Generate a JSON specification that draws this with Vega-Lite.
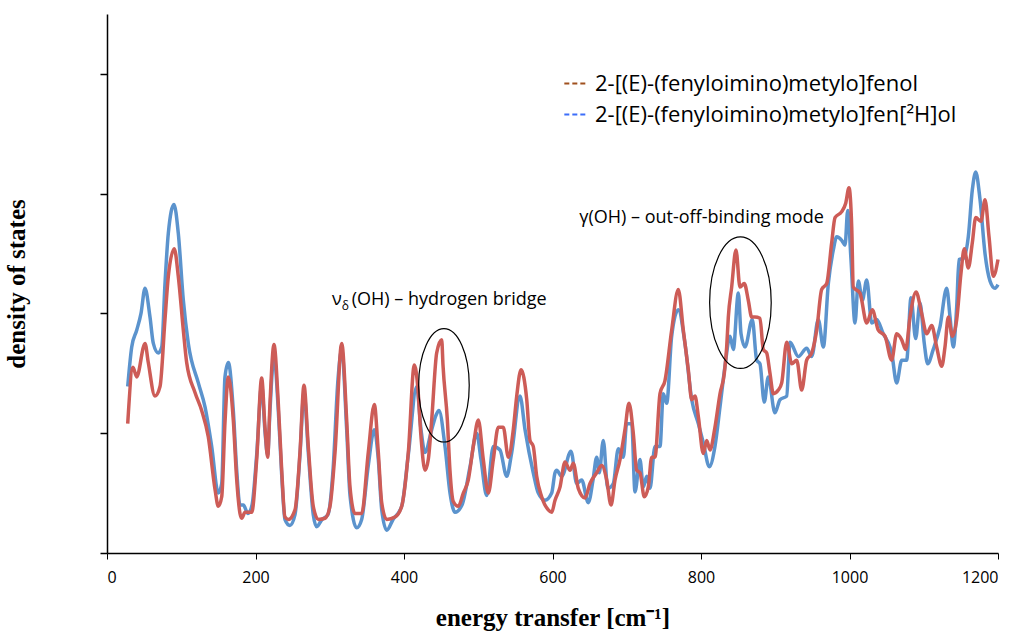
{
  "$schema": "https://vega.github.io/schema/vega-lite/v6.json",
  "width": 891,
  "height": 539,
  "autosize": {"type": "none"},
  "padding": {"left": 107, "top": 14, "right": 27, "bottom": 80},
  "config": {"view": {"stroke": null}, "font": "Open Sans"},
  "datasets": {
    "spec": [
      {"s":"D","x":27.9,"y":1.39},{"s":"D","x":33.3,"y":1.72},{"s":"D","x":40.0,"y":1.86},{"s":"D","x":45.8,"y":2.00},{"s":"D","x":51.2,"y":2.21},{"s":"D","x":57.9,"y":1.97},{"s":"D","x":62.4,"y":1.75},{"s":"D","x":69.1,"y":1.67},{"s":"D","x":73.7,"y":1.72},{"s":"D","x":78.1,"y":2.25},{"s":"D","x":82.6,"y":2.67},{"s":"D","x":90.2,"y":2.91},{"s":"D","x":96.0,"y":2.67},{"s":"D","x":102.8,"y":2.11},{"s":"D","x":109.5,"y":1.75},{"s":"D","x":123.0,"y":1.42},{"s":"D","x":132.0,"y":1.22},{"s":"D","x":141.0,"y":0.89},{"s":"D","x":149.9,"y":0.50},{"s":"D","x":154.5,"y":0.58},{"s":"D","x":158.9,"y":1.47},{"s":"D","x":163.4,"y":1.59},{"s":"D","x":170.1,"y":1.19},{"s":"D","x":174.7,"y":0.69},{"s":"D","x":179.1,"y":0.40},{"s":"D","x":183.6,"y":0.40},{"s":"D","x":189.9,"y":0.33},{"s":"D","x":195.3,"y":0.40},{"s":"D","x":201.6,"y":0.82},{"s":"D","x":208.3,"y":1.40},{"s":"D","x":212.8,"y":1.01},{"s":"D","x":216.4,"y":0.82},{"s":"D","x":219.5,"y":1.19},{"s":"D","x":224.9,"y":1.65},{"s":"D","x":230.7,"y":1.19},{"s":"D","x":235.3,"y":0.65},{"s":"D","x":239.7,"y":0.28},{"s":"D","x":246.4,"y":0.23},{"s":"D","x":253.2,"y":0.32},{"s":"D","x":259.9,"y":0.82},{"s":"D","x":265.3,"y":1.34},{"s":"D","x":271.1,"y":0.84},{"s":"D","x":277.8,"y":0.32},{"s":"D","x":282.4,"y":0.22},{"s":"D","x":289.6,"y":0.28},{"s":"D","x":297.6,"y":0.32},{"s":"D","x":304.4,"y":0.69},{"s":"D","x":311.1,"y":1.45},{"s":"D","x":316.1,"y":1.70},{"s":"D","x":322.8,"y":1.03},{"s":"D","x":327.3,"y":0.48},{"s":"D","x":336.3,"y":0.21},{"s":"D","x":343.0,"y":0.28},{"s":"D","x":351.9,"y":0.73},{"s":"D","x":360.0,"y":1.03},{"s":"D","x":365.4,"y":0.78},{"s":"D","x":370.0,"y":0.36},{"s":"D","x":376.7,"y":0.19},{"s":"D","x":385.2,"y":0.28},{"s":"D","x":396.9,"y":0.39},{"s":"D","x":405.8,"y":0.82},{"s":"D","x":417.1,"y":1.39},{"s":"D","x":422.9,"y":1.03},{"s":"D","x":428.3,"y":0.84},{"s":"D","x":437.3,"y":1.03},{"s":"D","x":443.1,"y":1.15},{"s":"D","x":447.1,"y":1.19},{"s":"D","x":455.2,"y":0.89},{"s":"D","x":462.0,"y":0.50},{"s":"D","x":468.7,"y":0.34},{"s":"D","x":478.1,"y":0.40},{"s":"D","x":488.9,"y":0.72},{"s":"D","x":497.9,"y":1.00},{"s":"D","x":503.7,"y":0.78},{"s":"D","x":511.4,"y":0.48},{"s":"D","x":520.3,"y":0.89},{"s":"D","x":529.3,"y":0.86},{"s":"D","x":538.3,"y":0.64},{"s":"D","x":545.1,"y":0.84},{"s":"D","x":556.2,"y":1.31},{"s":"D","x":563.0,"y":1.03},{"s":"D","x":574.1,"y":0.67},{"s":"D","x":580.9,"y":0.50},{"s":"D","x":589.9,"y":0.44},{"s":"D","x":598.9,"y":0.50},{"s":"D","x":603.4,"y":0.67},{"s":"D","x":605.6,"y":0.69},{"s":"D","x":612.4,"y":0.64},{"s":"D","x":624.9,"y":0.85},{"s":"D","x":632.6,"y":0.58},{"s":"D","x":639.3,"y":0.61},{"s":"D","x":648.2,"y":0.42},{"s":"D","x":654.6,"y":0.61},{"s":"D","x":659.5,"y":0.80},{"s":"D","x":663.0,"y":0.67},{"s":"D","x":668.4,"y":0.94},{"s":"D","x":674.4,"y":0.54},{"s":"D","x":681.9,"y":0.58},{"s":"D","x":688.6,"y":0.87},{"s":"D","x":695.4,"y":0.80},{"s":"D","x":699.9,"y":1.08},{"s":"D","x":706.7,"y":1.08},{"s":"D","x":711.1,"y":0.51},{"s":"D","x":717.8,"y":0.78},{"s":"D","x":722.3,"y":0.55},{"s":"D","x":726.9,"y":0.64},{"s":"D","x":731.3,"y":0.54},{"s":"D","x":738.0,"y":0.89},{"s":"D","x":744.8,"y":0.89},{"s":"D","x":749.2,"y":1.33},{"s":"D","x":753.8,"y":1.25},{"s":"D","x":760.5,"y":1.81},{"s":"D","x":769.4,"y":2.03},{"s":"D","x":778.4,"y":1.75},{"s":"D","x":787.5,"y":1.28},{"s":"D","x":796.4,"y":1.08},{"s":"D","x":803.1,"y":0.92},{"s":"D","x":811.2,"y":0.72},{"s":"D","x":818.8,"y":0.89},{"s":"D","x":825.6,"y":1.22},{"s":"D","x":832.3,"y":1.56},{"s":"D","x":839.1,"y":1.81},{"s":"D","x":843.5,"y":1.70},{"s":"D","x":850.3,"y":2.17},{"s":"D","x":853.9,"y":1.83},{"s":"D","x":859.3,"y":1.72},{"s":"D","x":869.1,"y":1.95},{"s":"D","x":875.0,"y":1.61},{"s":"D","x":879.4,"y":1.58},{"s":"D","x":885.2,"y":1.26},{"s":"D","x":890.6,"y":1.47},{"s":"D","x":899.6,"y":1.17},{"s":"D","x":906.4,"y":1.28},{"s":"D","x":915.4,"y":1.31},{"s":"D","x":919.9,"y":1.76},{"s":"D","x":931.1,"y":1.64},{"s":"D","x":942.3,"y":1.71},{"s":"D","x":949.1,"y":1.64},{"s":"D","x":958.0,"y":1.95},{"s":"D","x":964.8,"y":1.72},{"s":"D","x":971.5,"y":2.25},{"s":"D","x":978.2,"y":2.53},{"s":"D","x":982.8,"y":2.64},{"s":"D","x":989.5,"y":2.61},{"s":"D","x":994.0,"y":2.57},{"s":"D","x":997.6,"y":2.86},{"s":"D","x":1002.0,"y":2.45},{"s":"D","x":1007.4,"y":1.92},{"s":"D","x":1011.9,"y":2.27},{"s":"D","x":1017.3,"y":2.11},{"s":"D","x":1023.2,"y":2.28},{"s":"D","x":1029.9,"y":1.92},{"s":"D","x":1036.6,"y":1.95},{"s":"D","x":1045.5,"y":1.83},{"s":"D","x":1054.5,"y":1.72},{"s":"D","x":1056.8,"y":1.67},{"s":"D","x":1063.5,"y":1.42},{"s":"D","x":1070.3,"y":1.61},{"s":"D","x":1077.0,"y":1.61},{"s":"D","x":1082.8,"y":2.13},{"s":"D","x":1089.1,"y":1.79},{"s":"D","x":1094.9,"y":2.09},{"s":"D","x":1100.7,"y":1.75},{"s":"D","x":1105.3,"y":1.58},{"s":"D","x":1112.8,"y":1.70},{"s":"D","x":1121.9,"y":1.89},{"s":"D","x":1130.9,"y":2.21},{"s":"D","x":1135.4,"y":1.97},{"s":"D","x":1139.8,"y":1.72},{"s":"D","x":1144.4,"y":2.06},{"s":"D","x":1147.5,"y":2.45},{"s":"D","x":1153.3,"y":2.46},{"s":"D","x":1160.0,"y":2.64},{"s":"D","x":1165.4,"y":3.03},{"s":"D","x":1170.0,"y":3.18},{"s":"D","x":1175.8,"y":2.95},{"s":"D","x":1182.5,"y":2.50},{"s":"D","x":1189.3,"y":2.27},{"s":"D","x":1196.0,"y":2.21},{"s":"D","x":1200,"y":2.24},
      {"s":"H","x":27.9,"y":1.08},{"s":"H","x":35.0,"y":1.55},{"s":"H","x":40.0,"y":1.47},{"s":"H","x":51.2,"y":1.75},{"s":"H","x":55.6,"y":1.59},{"s":"H","x":64.6,"y":1.31},{"s":"H","x":71.4,"y":1.39},{"s":"H","x":78.1,"y":1.95},{"s":"H","x":82.6,"y":2.31},{"s":"H","x":90.6,"y":2.54},{"s":"H","x":96.0,"y":2.31},{"s":"H","x":102.8,"y":1.86},{"s":"H","x":107.3,"y":1.59},{"s":"H","x":118.5,"y":1.34},{"s":"H","x":127.5,"y":1.19},{"s":"H","x":136.4,"y":0.97},{"s":"H","x":145.5,"y":0.53},{"s":"H","x":149.9,"y":0.39},{"s":"H","x":154.5,"y":0.47},{"s":"H","x":158.9,"y":1.09},{"s":"H","x":163.4,"y":1.47},{"s":"H","x":170.1,"y":1.11},{"s":"H","x":174.7,"y":0.61},{"s":"H","x":179.1,"y":0.33},{"s":"H","x":181.4,"y":0.29},{"s":"H","x":185.9,"y":0.34},{"s":"H","x":194.9,"y":0.34},{"s":"H","x":201.6,"y":0.78},{"s":"H","x":208.3,"y":1.46},{"s":"H","x":212.8,"y":1.05},{"s":"H","x":216.4,"y":0.80},{"s":"H","x":219.5,"y":1.25},{"s":"H","x":224.9,"y":1.74},{"s":"H","x":230.7,"y":1.25},{"s":"H","x":235.3,"y":0.69},{"s":"H","x":239.7,"y":0.30},{"s":"H","x":244.2,"y":0.28},{"s":"H","x":253.2,"y":0.36},{"s":"H","x":259.9,"y":0.84},{"s":"H","x":265.3,"y":1.40},{"s":"H","x":271.1,"y":0.89},{"s":"H","x":277.8,"y":0.39},{"s":"H","x":284.6,"y":0.28},{"s":"H","x":293.6,"y":0.29},{"s":"H","x":300.3,"y":0.39},{"s":"H","x":307.1,"y":0.84},{"s":"H","x":316.1,"y":1.75},{"s":"H","x":322.8,"y":1.11},{"s":"H","x":327.3,"y":0.55},{"s":"H","x":334.0,"y":0.33},{"s":"H","x":343.0,"y":0.33},{"s":"H","x":351.9,"y":0.84},{"s":"H","x":360.0,"y":1.24},{"s":"H","x":365.4,"y":0.84},{"s":"H","x":370.0,"y":0.42},{"s":"H","x":376.7,"y":0.28},{"s":"H","x":387.9,"y":0.30},{"s":"H","x":396.9,"y":0.39},{"s":"H","x":405.8,"y":0.84},{"s":"H","x":413.9,"y":1.57},{"s":"H","x":418.5,"y":1.39},{"s":"H","x":422.9,"y":0.97},{"s":"H","x":428.3,"y":0.69},{"s":"H","x":432.7,"y":0.78},{"s":"H","x":437.3,"y":1.11},{"s":"H","x":444.0,"y":1.67},{"s":"H","x":450.8,"y":1.78},{"s":"H","x":452.5,"y":1.57},{"s":"H","x":458.4,"y":1.11},{"s":"H","x":461.9,"y":0.69},{"s":"H","x":466.4,"y":0.43},{"s":"H","x":473.1,"y":0.39},{"s":"H","x":479.9,"y":0.50},{"s":"H","x":486.6,"y":0.61},{"s":"H","x":493.3,"y":0.89},{"s":"H","x":500.1,"y":1.11},{"s":"H","x":506.8,"y":0.78},{"s":"H","x":513.5,"y":0.50},{"s":"H","x":520.3,"y":0.78},{"s":"H","x":527.0,"y":1.05},{"s":"H","x":533.7,"y":1.05},{"s":"H","x":540.5,"y":0.80},{"s":"H","x":547.2,"y":1.03},{"s":"H","x":551.8,"y":1.31},{"s":"H","x":557.6,"y":1.53},{"s":"H","x":565.3,"y":1.28},{"s":"H","x":569.7,"y":0.94},{"s":"H","x":574.1,"y":0.89},{"s":"H","x":578.7,"y":0.64},{"s":"H","x":585.4,"y":0.47},{"s":"H","x":594.3,"y":0.36},{"s":"H","x":598.9,"y":0.34},{"s":"H","x":603.4,"y":0.44},{"s":"H","x":610.1,"y":0.55},{"s":"H","x":616.8,"y":0.76},{"s":"H","x":623.6,"y":0.69},{"s":"H","x":628.0,"y":0.75},{"s":"H","x":634.7,"y":0.54},{"s":"H","x":643.8,"y":0.46},{"s":"H","x":650.5,"y":0.58},{"s":"H","x":659.5,"y":0.67},{"s":"H","x":666.3,"y":0.73},{"s":"H","x":673.0,"y":0.61},{"s":"H","x":678.8,"y":0.40},{"s":"H","x":684.2,"y":0.61},{"s":"H","x":690.9,"y":0.78},{"s":"H","x":697.6,"y":1.03},{"s":"H","x":703.0,"y":1.25},{"s":"H","x":708.8,"y":1.00},{"s":"H","x":713.4,"y":0.69},{"s":"H","x":717.8,"y":0.67},{"s":"H","x":723.6,"y":0.47},{"s":"H","x":729.0,"y":0.55},{"s":"H","x":733.6,"y":0.80},{"s":"H","x":738.0,"y":0.80},{"s":"H","x":744.8,"y":1.33},{"s":"H","x":751.5,"y":1.44},{"s":"H","x":760.5,"y":1.86},{"s":"H","x":769.4,"y":2.20},{"s":"H","x":776.2,"y":1.86},{"s":"H","x":782.9,"y":1.53},{"s":"H","x":787.5,"y":1.28},{"s":"H","x":791.9,"y":1.31},{"s":"H","x":796.4,"y":1.14},{"s":"H","x":803.1,"y":0.83},{"s":"H","x":807.7,"y":0.94},{"s":"H","x":812.1,"y":0.86},{"s":"H","x":818.8,"y":1.05},{"s":"H","x":825.6,"y":1.33},{"s":"H","x":831.4,"y":1.50},{"s":"H","x":834.6,"y":1.72},{"s":"H","x":836.8,"y":1.97},{"s":"H","x":841.3,"y":2.22},{"s":"H","x":847.1,"y":2.53},{"s":"H","x":852.5,"y":2.22},{"s":"H","x":858.3,"y":2.25},{"s":"H","x":863.7,"y":2.11},{"s":"H","x":868.3,"y":1.97},{"s":"H","x":872.7,"y":1.97},{"s":"H","x":879.4,"y":1.96},{"s":"H","x":883.9,"y":1.70},{"s":"H","x":888.5,"y":1.67},{"s":"H","x":892.9,"y":1.50},{"s":"H","x":897.4,"y":1.33},{"s":"H","x":904.1,"y":1.36},{"s":"H","x":908.7,"y":1.42},{"s":"H","x":915.4,"y":1.76},{"s":"H","x":922.2,"y":1.58},{"s":"H","x":928.9,"y":1.61},{"s":"H","x":935.6,"y":1.36},{"s":"H","x":942.3,"y":1.61},{"s":"H","x":949.1,"y":1.67},{"s":"H","x":955.8,"y":1.86},{"s":"H","x":962.5,"y":2.20},{"s":"H","x":969.3,"y":2.25},{"s":"H","x":976.0,"y":2.59},{"s":"H","x":980.5,"y":2.80},{"s":"H","x":989.5,"y":2.85},{"s":"H","x":994.9,"y":2.92},{"s":"H","x":999.3,"y":3.05},{"s":"H","x":1003.0,"y":2.72},{"s":"H","x":1005.1,"y":2.22},{"s":"H","x":1014.1,"y":2.17},{"s":"H","x":1023.2,"y":1.92},{"s":"H","x":1030.7,"y":2.03},{"s":"H","x":1038.8,"y":1.86},{"s":"H","x":1047.8,"y":1.81},{"s":"H","x":1056.8,"y":1.61},{"s":"H","x":1063.5,"y":1.83},{"s":"H","x":1070.3,"y":1.78},{"s":"H","x":1075.7,"y":1.70},{"s":"H","x":1081.5,"y":1.97},{"s":"H","x":1089.6,"y":2.18},{"s":"H","x":1097.2,"y":2.00},{"s":"H","x":1104.0,"y":1.83},{"s":"H","x":1110.7,"y":1.90},{"s":"H","x":1117.4,"y":1.72},{"s":"H","x":1124.2,"y":1.56},{"s":"H","x":1128.6,"y":1.72},{"s":"H","x":1133.1,"y":1.97},{"s":"H","x":1138.5,"y":1.81},{"s":"H","x":1144.4,"y":1.95},{"s":"H","x":1150.2,"y":2.34},{"s":"H","x":1154.6,"y":2.54},{"s":"H","x":1160.0,"y":2.38},{"s":"H","x":1165.4,"y":2.59},{"s":"H","x":1170.0,"y":2.80},{"s":"H","x":1177.1,"y":2.77},{"s":"H","x":1182.5,"y":2.95},{"s":"H","x":1187.9,"y":2.64},{"s":"H","x":1193.7,"y":2.31},{"s":"H","x":1200,"y":2.45}
    ]
  },
  "encoding": {
    "x": {"field": "x", "type": "quantitative", "scale": {"domain": [0, 1200], "nice": false},
      "axis": {"values": [0, 200, 400, 600, 800, 1000, 1200], "format": "d", "grid": false, "domainColor": "black", "domainWidth": 1.5, "tickColor": "black", "tickSize": 6, "labelFont": "Open Sans", "labelFontSize": 16, "labelColor": "black", "labelPadding": 10,
        "title": "energy transfer [cm⁻¹]", "titleFont": "Liberation Serif", "titleFontSize": 25, "titleFontWeight": "bold", "titleColor": "black", "titlePadding": 20}},
    "y": {"field": "y", "type": "quantitative", "scale": {"domain": [0, 4.5], "nice": false},
      "axis": {"values": [0, 1, 2, 3, 4], "grid": false, "labels": false, "domainColor": "black", "domainWidth": 1.5, "tickColor": "black", "tickSize": 7, "tickWidth": 1.5,
        "title": "density of states", "titleFont": "Liberation Serif", "titleFontSize": 25, "titleFontWeight": "bold", "titleColor": "black", "titlePadding": 70}}
  },
  "layer": [
    {
      "data": {"name": "spec"},
      "transform": [{"filter": "false"}],
      "mark": {"type": "line", "strokeWidth": 2},
      "encoding": {"color": {"field": "s", "type": "nominal", "scale": {"domain": ["H", "D"], "range": ["#A0501E", "#3C6EFA"]},
        "legend": {"orient": "none", "legendX": 456, "legendY": 57, "title": null, "symbolType": "stroke", "symbolDash": [5, 3], "symbolStrokeWidth": 2, "symbolSize": 500, "labelFont": "Open Sans", "labelFontSize": 22, "labelColor": "black", "rowPadding": 7, "labelOffset": 7, "labelLimit": 600,
          "labelExpr": "datum.value == 'H' ? '2-[(E)-(fenyloimino)metylo]fenol' : '2-[(E)-(fenyloimino)metylo]fen[²H]ol'"}}}
    },
    {
      "data": {"name": "spec"},
      "transform": [{"filter": "datum.s == 'D'"}],
      "mark": {"type": "line", "strokeWidth": 3.5, "interpolate": "monotone", "color": "#5B93CD"}
    },
    {
      "data": {"name": "spec"},
      "transform": [{"filter": "datum.s == 'H'"}],
      "mark": {"type": "line", "strokeWidth": 3.5, "interpolate": "monotone", "color": "#CD5C57"}
    },
    {
      "data": {"values": [{"x": 453.8, "y": 1.40}]},
      "mark": {"type": "point", "shape": "M 0.446 0 C 0.446 0.5523 0.2463 1 0 1 C -0.2463 1 -0.446 0.5523 -0.446 0 C -0.446 -0.5523 -0.2463 -1 0 -1 C 0.2463 -1 0.446 -0.5523 0.446 0 Z", "size": 12860, "filled": false, "color": "black", "strokeWidth": 1.2, "opacity": 1}
    },
    {
      "data": {"values": [{"x": 853.1, "y": 2.09}]},
      "mark": {"type": "point", "shape": "M 0.468 0 C 0.468 0.5523 0.2585 1 0 1 C -0.2585 1 -0.468 0.5523 -0.468 0 C -0.468 -0.5523 -0.2585 -1 0 -1 C 0.2585 -1 0.468 -0.5523 0.468 0 Z", "size": 17319, "filled": false, "color": "black", "strokeWidth": 1.2, "opacity": 1}
    },
    {
      "data": {"values": [{"x": 800.7, "y": 2.80, "t": "γ(OH) – out-off-binding mode"}]},
      "mark": {"type": "text", "font": "Open Sans", "fontSize": 18, "color": "black", "align": "center", "baseline": "middle"},
      "encoding": {"text": {"field": "t"}}
    },
    {
      "data": {"values": [{"x": 329.6, "y": 2.11, "t": "(OH) – hydrogen bridge"}]},
      "mark": {"type": "text", "font": "Open Sans", "fontSize": 18, "color": "black", "align": "left", "baseline": "middle"},
      "encoding": {"text": {"field": "t"}}
    },
    {
      "data": {"values": [{"x": 329.6, "y": 2.11, "t": "ν"}]},
      "mark": {"type": "text", "font": "Open Sans", "fontSize": 18, "color": "black", "align": "right", "baseline": "middle", "dx": -10},
      "encoding": {"text": {"field": "t"}}
    },
    {
      "data": {"values": [{"x": 329.6, "y": 2.11, "t": "δ"}]},
      "mark": {"type": "text", "font": "Open Sans", "fontSize": 12, "color": "black", "align": "left", "baseline": "middle", "dx": -10, "dy": 6},
      "encoding": {"text": {"field": "t"}}
    }
  ]
}
